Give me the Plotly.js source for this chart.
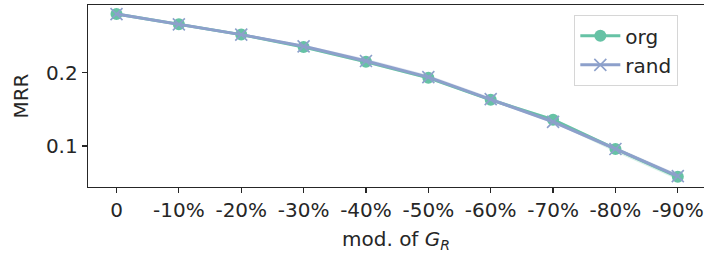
<!DOCTYPE html>
<html>
<head>
<meta charset="utf-8">
<script src="https://cdn.plot.ly/plotly-3.0.1.min.js"></script>
<style>
html,body{margin:0;padding:0;background:#fff;}
#chart{width:704px;height:255px;}
</style>
</head>
<body>
<div id="chart"></div>
<script>
// Data
const categories = ["0", "-10%", "-20%", "-30%", "-40%", "-50%", "-60%", "-70%", "-80%", "-90%"];
const orgValues  = [0.280, 0.266, 0.252, 0.235, 0.215, 0.193, 0.163, 0.136, 0.096, 0.058];
const orgLow     = [0.279, 0.265, 0.250, 0.233, 0.213, 0.191, 0.161, 0.132, 0.092, 0.054];
const orgHigh    = [0.281, 0.267, 0.253, 0.237, 0.217, 0.195, 0.165, 0.138, 0.098, 0.060];
const randValues = [0.280, 0.266, 0.252, 0.236, 0.216, 0.194, 0.164, 0.133, 0.096, 0.059];
const randLow    = [0.279, 0.265, 0.251, 0.234, 0.214, 0.192, 0.162, 0.131, 0.094, 0.057];
const randHigh   = [0.281, 0.267, 0.254, 0.238, 0.219, 0.197, 0.167, 0.136, 0.099, 0.062];
const yTickVals  = [0.1, 0.2];
const yTickText  = ["0.1", "0.2"];

const xIdx = categories.map((c, i) => i);
const green = "#66c2a5";
const purple = "#8da0cb";

function band(lo, hi, color) {
  return {
    x: xIdx.concat(xIdx.slice().reverse()),
    y: hi.concat(lo.slice().reverse()),
    type: "scatter", mode: "lines", fill: "toself",
    fillcolor: color, line: {width: 0}, hoverinfo: "skip", showlegend: false
  };
}

const traces = [
  band(orgLow, orgHigh, "rgba(102,194,165,0.25)"),
  {
    x: xIdx, y: orgValues, name: "org", type: "scatter", mode: "lines+markers",
    line: {color: green, width: 3},
    marker: {symbol: "circle", size: 12, color: green}
  },
  band(randLow, randHigh, "rgba(141,160,203,0.25)"),
  {
    x: xIdx, y: randValues, name: "rand", type: "scatter", mode: "lines+markers",
    line: {color: purple, width: 3},
    marker: {symbol: "x-thin", size: 12, color: purple, line: {color: purple, width: 1.6}}
  }
];

const font = {family: "DejaVu Sans", size: 20, color: "#262626"};

const layout = {
  width: 704, height: 255,
  margin: {l: 88, r: 0, t: 5, b: 68},
  paper_bgcolor: "#fff", plot_bgcolor: "#fff",
  font: font,
  showlegend: true,
  xaxis: {
    range: [-0.457, 9.42],
    tickmode: "array", tickvals: xIdx, ticktext: categories,
    showgrid: false, zeroline: false,
    showline: true, mirror: true, linecolor: "#262626", linewidth: 1.3,
    ticks: "outside", ticklen: 5, tickwidth: 1.2, tickcolor: "#262626",
    tickfont: font,
    title: {text: "mod. of <i>G<sub>R</sub></i>", font: font, standoff: 10}
  },
  yaxis: {
    range: [0.0441, 0.2924],
    tickmode: "array", tickvals: yTickVals, ticktext: yTickText,
    showgrid: false, zeroline: false,
    showline: true, mirror: false, linecolor: "#262626", linewidth: 1.3,
    ticks: "outside", ticklen: 5, tickwidth: 1.2, tickcolor: "#262626",
    tickfont: font,
    title: {text: "MRR", font: font, standoff: 12}
  },
  legend: {
    x: 0.789, y: 0.945, xanchor: "left", yanchor: "top",
    bgcolor: "rgba(255,255,255,0.8)", bordercolor: "#d6d6d6", borderwidth: 1.3,
    font: font, tracegroupgap: 0, itemwidth: 40
  }
};

Plotly.newPlot("chart", traces, layout, {displayModeBar: false, staticPlot: true});
</script>
</body>
</html>
